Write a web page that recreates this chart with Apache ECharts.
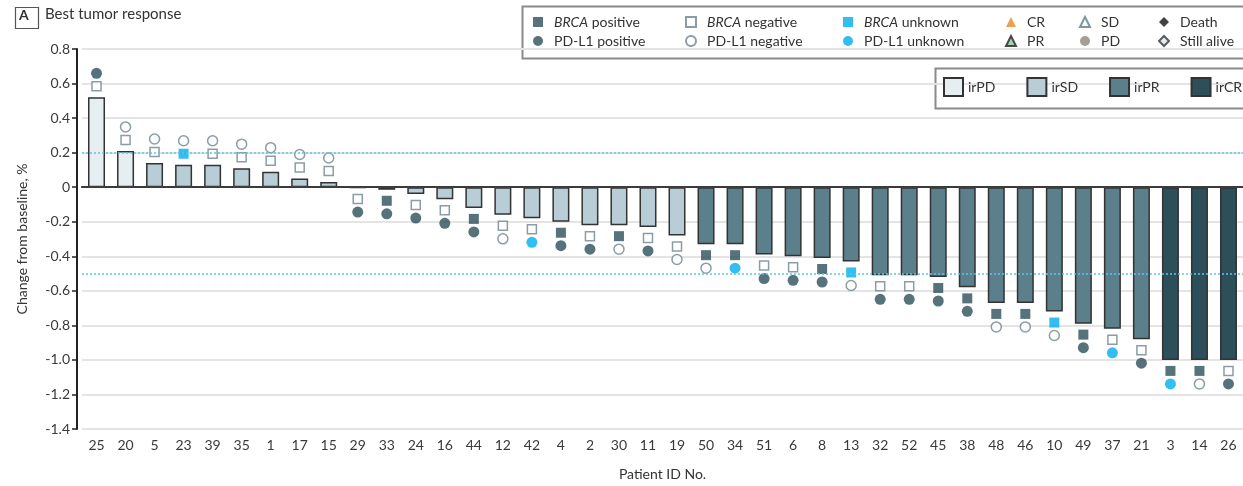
<!DOCTYPE html>
<html>
<head>
<meta charset="utf-8">
<script src="https://cdn.jsdelivr.net/npm/echarts@6/dist/echarts.min.js"></script>
<style>
html,body{margin:0;padding:0;background:#fff;}
#chart{width:1243px;height:486px;}
</style>
</head>
<body>
<div id="chart"></div>
<script>
// ---- data ----
const patients = ['25','20','5','23','39','35','1','17','15','29','33','24','16','44','12','42','4','2','30','11','19','50','34','51','6','8','13','32','52','45','38','48','46','10','49','37','21','3','14','26'];
const change = [0.52,0.21,0.14,0.13,0.13,0.11,0.09,0.05,0.03,-0.005,-0.015,-0.04,-0.07,-0.12,-0.16,-0.18,-0.20,-0.22,-0.22,-0.23,-0.28,-0.33,-0.33,-0.39,-0.40,-0.41,-0.43,-0.51,-0.51,-0.52,-0.58,-0.67,-0.67,-0.72,-0.79,-0.82,-0.88,-1.0,-1.0,-1.0];
const response = ['irPD','irPD','irSD','irSD','irSD','irSD','irSD','irSD','irSD','irSD','irSD','irSD','irSD','irSD','irSD','irSD','irSD','irSD','irSD','irSD','irSD','irPR','irPR','irPR','irPR','irPR','irPR','irPR','irPR','irPR','irPR','irPR','irPR','irPR','irPR','irPR','irPR','irCR','irCR','irCR'];
const brca = ['neg','neg','neg','unk','neg','neg','neg','neg','neg','neg','pos','neg','neg','pos','neg','neg','pos','neg','pos','neg','neg','pos','pos','neg','neg','pos','unk','neg','neg','pos','pos','pos','pos','unk','pos','neg','neg','pos','pos','neg'];
const pdl1 = ['pos','neg','neg','neg','neg','neg','neg','neg','neg','pos','pos','pos','pos','pos','neg','unk','pos','pos','neg','pos','neg','neg','unk','pos','pos','pos','neg','pos','pos','pos','pos','neg','neg','neg','pos','unk','pos','unk','neg','pos'];
const responseNames = ['irPD','irSD','irPR','irCR'];
const refLines = [0.2, -0.5];

// ---- styles ----
const FONT = 'Lato';
const DARK = '#2c4f5a';
const CYAN = '#00aeef';
const HOLLOW = '#6e858d';
const respColors = {irPD:'#e7eef1', irSD:'#b9cdd6', irPR:'#5b7f8b', irCR:'#2c4f5a'};

function markerData(arr, key, near) {
  const out = [];
  arr.forEach((k, i) => {
    if (k !== key) return;
    const v = change[i];
    const off = near ? 11 : 24;
    out.push({value: [i, v], symbolOffset: [0, v > 0 ? -off : off]});
  });
  return out;
}

const series = [];
// dotted reference lines behind bars
series.push({
  type: 'line', data: [], z: 1, silent: true,
  markLine: {
    silent: true, symbol: 'none', label: {show: false},
    lineStyle: {color: '#5cc6ea', type: [2, 2], width: 1.5},
    data: refLines.map(v => ({yAxis: v}))
  }
});
responseNames.forEach(name => {
  series.push({
    name: name, type: 'bar', stack: 'resp', barWidth: 17, z: 2,
    itemStyle: {color: respColors[name], borderColor: '#333', borderWidth: 1.5},
    data: change.map((v, i) => response[i] === name ? v : '-')
  });
});
// zero line on top
series.push({
  type: 'line', data: [], z: 5, silent: true,
  markLine: {
    silent: true, symbol: 'none', label: {show: false},
    lineStyle: {color: '#444', type: 'solid', width: 1.5},
    data: [{yAxis: 0}]
  }
});
const markerDefs = [
  {name: 'BRCA positive', arr: brca, key: 'pos', near: true, symbol: 'rect', size: 10, style: {color: DARK}},
  {name: 'BRCA negative', arr: brca, key: 'neg', near: true, symbol: 'rect', size: 9, style: {color: '#fff', borderColor: HOLLOW, borderWidth: 1.5}},
  {name: 'BRCA unknown', arr: brca, key: 'unk', near: true, symbol: 'rect', size: 10, style: {color: CYAN}},
  {name: 'PD-L1 positive', arr: pdl1, key: 'pos', near: false, symbol: 'circle', size: 11, style: {color: DARK}},
  {name: 'PD-L1 negative', arr: pdl1, key: 'neg', near: false, symbol: 'circle', size: 10, style: {color: '#fff', borderColor: HOLLOW, borderWidth: 1.5}},
  {name: 'PD-L1 unknown', arr: pdl1, key: 'unk', near: false, symbol: 'circle', size: 11, style: {color: CYAN}}
];
markerDefs.forEach(d => {
  series.push({
    name: d.name, type: 'scatter', symbol: d.symbol, symbolSize: d.size, z: 4,
    itemStyle: d.style, data: markerData(d.arr, d.key, d.near)
  });
});
const extraDefs = [
  {name: 'CR', symbol: 'triangle', size: 10, style: {color: '#e8872a'}},
  {name: 'PR', symbol: 'triangle', size: 10, style: {color: '#8cc79a', borderColor: '#222', borderWidth: 1.5}},
  {name: 'SD', symbol: 'triangle', size: 10, style: {color: '#fff', borderColor: '#5a7d88', borderWidth: 1.5}},
  {name: 'PD', symbol: 'circle', size: 8, style: {color: '#8f877c'}},
  {name: 'Death', symbol: 'diamond', size: 10, style: {color: '#111'}},
  {name: 'Still alive', symbol: 'diamond', size: 10, style: {color: '#dde8ef', borderColor: '#333', borderWidth: 1.5}}
];
extraDefs.forEach(d => {
  series.push({name: d.name, type: 'scatter', symbol: d.symbol, symbolSize: d.size, itemStyle: d.style, data: []});
});

const legendText = {
  fontFamily: FONT, fontSize: 14, color: '#333', lineHeight: 14, padding: [0, 0, 0, 6],
  rich: {i: {fontStyle: 'italic', fontFamily: FONT, fontSize: 14, color: '#333'}}
};
function colLegend(left, names) {
  return {
    orient: 'vertical', left: left, top: 15, padding: 0, itemGap: 5,
    itemWidth: 10, itemHeight: 10, selectedMode: false,
    data: names, textStyle: legendText,
    formatter: n => n.startsWith('BRCA') ? '{i|BRCA}' + n.slice(4) : n
  };
}

const option = {
  animation: false,
  textStyle: {fontFamily: FONT},
  grid: {left: 82, top: 49, width: 1163, height: 386, containLabel: false},
  xAxis: {
    type: 'category', data: patients,
    name: 'Patient ID No.', nameLocation: 'middle', nameGap: 38,
    nameTextStyle: {fontSize: 14, color: '#333', fontFamily: FONT},
    axisLine: {lineStyle: {color: '#222', width: 2}},
    axisTick: {alignWithLabel: true, length: 5, lineStyle: {color: '#222', width: 1.5}},
    axisLabel: {interval: 0, fontSize: 14, color: '#3a3a3a', margin: 9, fontFamily: FONT}
  },
  yAxis: {
    type: 'value', min: -1.4, max: 0.8, interval: 0.2, offset: 5,
    name: 'Change from baseline, %', nameLocation: 'middle', nameGap: 48, nameRotate: 90,
    nameTextStyle: {fontSize: 14, color: '#333', fontFamily: FONT},
    axisLine: {show: true, lineStyle: {color: '#222', width: 2}},
    axisTick: {show: true, length: 5, lineStyle: {color: '#222', width: 1.5}},
    axisLabel: {fontSize: 14, color: '#3a3a3a', margin: 7, fontFamily: FONT,
      formatter: v => Math.abs(v) < 1e-9 ? '0' : v.toFixed(1)},
    splitLine: {lineStyle: {color: '#e4e4e4', width: 2}}
  },
  legend: [
    colLegend(533, ['BRCA positive', 'PD-L1 positive']),
    colLegend(685, ['BRCA negative', 'PD-L1 negative']),
    colLegend(843, ['BRCA unknown', 'PD-L1 unknown']),
    colLegend(1005, ['CR', 'PR']),
    colLegend(1079, ['SD', 'PD']),
    colLegend(1158, ['Death', 'Still alive']),
    {
      orient: 'horizontal', left: 943, top: 77, padding: 0, itemGap: 31,
      itemWidth: 19, itemHeight: 18, icon: 'rect', selectedMode: false,
      data: responseNames,
      textStyle: {fontFamily: FONT, fontSize: 14, color: '#333'}
    }
  ],
  graphic: [
    {type: 'rect', left: 13, top: 5, shape: {width: 23, height: 21}, style: {fill: 'none', stroke: '#555', lineWidth: 1.2}},
    {type: 'text', left: 19, top: 8, style: {text: 'A', font: 'bold 14px ' + FONT, fill: '#333'}},
    {type: 'text', left: 45, top: 7, style: {text: 'Best tumor response', font: '15px ' + FONT, fill: '#333'}},
    {type: 'rect', left: 520, top: 4, shape: {width: 740, height: 52}, style: {fill: 'none', stroke: '#8a8a8a', lineWidth: 2}, z: -1},
    {type: 'rect', left: 933, top: 66, shape: {width: 320, height: 40}, style: {fill: 'none', stroke: '#8a8a8a', lineWidth: 2}, z: -1}
  ],
  series: series
};

const chart = echarts.init(document.getElementById('chart'), null, {renderer: 'canvas'});
chart.setOption(option);
</script>
</body>
</html>
